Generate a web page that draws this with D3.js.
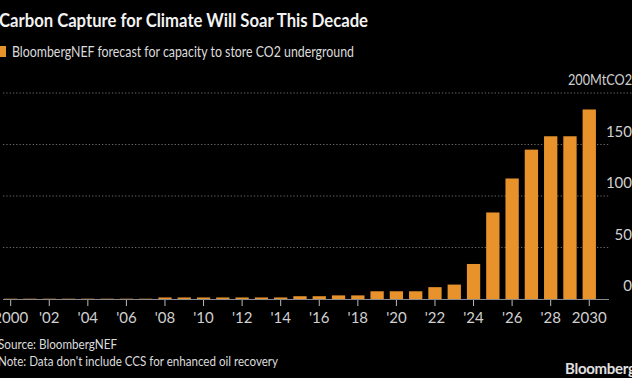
<!DOCTYPE html>
<html><head><meta charset="utf-8">
<script src="https://cdn.jsdelivr.net/npm/d3@7"></script>
<style>
html,body{margin:0;padding:0;background:#000;overflow:hidden;}
svg{display:block;}
text{font-family:Lato, "Noto Sans", sans-serif;}
</style></head>
<body>
<svg id="chart" width="632" height="378"></svg>
<script>
const years = d3.range(2000, 2031);
const capacity = [0.3,0.3,0.3,0.3,0.3,0.3,0.3,0.3,
  1.5,1.5,1.5,1.5,1.5,1.5,1.5,
  2.7,2.7,3.5,3.5,7.5,7.5,7.5,11.5,14,34,84,117,145,158,158,184];
const yTicks = [0,50,100,150,200];
const xTickYears = d3.range(2000, 2031, 2);
const title = "Carbon Capture for Climate Will Soar This Decade";
const legendLabel = "BloombergNEF forecast for capacity to store CO2 underground";
const source = "Source: BloombergNEF";
const note = "Note: Data don't include CCS for enhanced oil recovery";

const svg = d3.select("#chart");
svg.append("rect").attr("width",632).attr("height",378).attr("fill","#000");

const x = d3.scaleBand().domain(years).range([1.05, 598.9]).paddingInner(0.31).paddingOuter(0.155);
const y = d3.scaleLinear().domain([0,200]).range([299, 93]);

function fitLen(sel, w){
  sel.attr("textLength", w).attr("lengthAdjust","spacingAndGlyphs");
}

// gridlines
const grid = svg.append("g");
yTicks.filter(d=>d>0).forEach(t=>{
  grid.append("line").attr("x1",3).attr("x2", t===200?632:609)
    .attr("y1",y(t)).attr("y2",y(t))
    .attr("stroke","#6a6a6a").attr("stroke-width",1.2).attr("stroke-dasharray","1.3,2");
});
// y labels
yTicks.forEach(t=>{
  const lab = svg.append("text").attr("x",632).attr("y",y(t)-8)
    .attr("text-anchor","end").attr("fill","#d0d0d0").attr("font-size",15)
    .text(t===200? "200MtCO2" : t);
  if(t===200) fitLen(lab, 64);
});

// bars
svg.append("g").selectAll("rect").data(years).join("rect")
  .attr("x", d=>x(d)).attr("width", x.bandwidth())
  .attr("y", (d,i)=>y(capacity[i])).attr("height",(d,i)=>y(0)-y(capacity[i]))
  .attr("fill","#e8922b");

// baseline + ticks
svg.append("line").attr("x1",3).attr("x2",609).attr("y1",y(0)+0.5).attr("y2",y(0)+0.5)
  .attr("stroke","#8a8a8a").attr("stroke-width",1);
const xAxis = d3.axisBottom(x).tickValues(xTickYears).tickSize(6).tickPadding(6)
  .tickFormat(d => (d===2000||d===2030) ? String(d) : "'" + String(d).slice(2));
const gx = svg.append("g").attr("transform",`translate(0,${y(0)+1})`).call(xAxis);
gx.select(".domain").remove();
gx.selectAll("line").attr("stroke","#bbbbbb");
gx.selectAll("text").attr("fill","#d0d0d0").attr("font-size",15).attr("font-family","Lato, sans-serif");

// title
const t = svg.append("text").attr("x",-1).attr("y",27).attr("fill","#f2f2f2")
  .attr("font-weight","bold").attr("font-size",19).text(title);
fitLen(t, 369);
// legend
svg.append("rect").attr("x",-3).attr("y",46).attr("width",9).attr("height",11).attr("fill","#e8922b");
const lg = svg.append("text").attr("x",12).attr("y",57).attr("fill","#dcdcdc").attr("font-size",15).text(legendLabel);
fitLen(lg, 342);
// footer
const s1 = svg.append("text").attr("x",-2).attr("y",349).attr("fill","#dcdcdc").attr("font-size",14).text(source);
fitLen(s1, 119);
const s2 = svg.append("text").attr("x",-2).attr("y",366).attr("fill","#dcdcdc").attr("font-size",14).text(note);
fitLen(s2, 280);
svg.append("text").attr("x",565).attr("y",374).attr("fill","#e0e0e0").attr("font-weight","bold")
  .attr("font-size",15).attr("font-family","Roboto, Arial, sans-serif").attr("letter-spacing","-0.3").text("Bloomberg");
</script>
</body></html>
